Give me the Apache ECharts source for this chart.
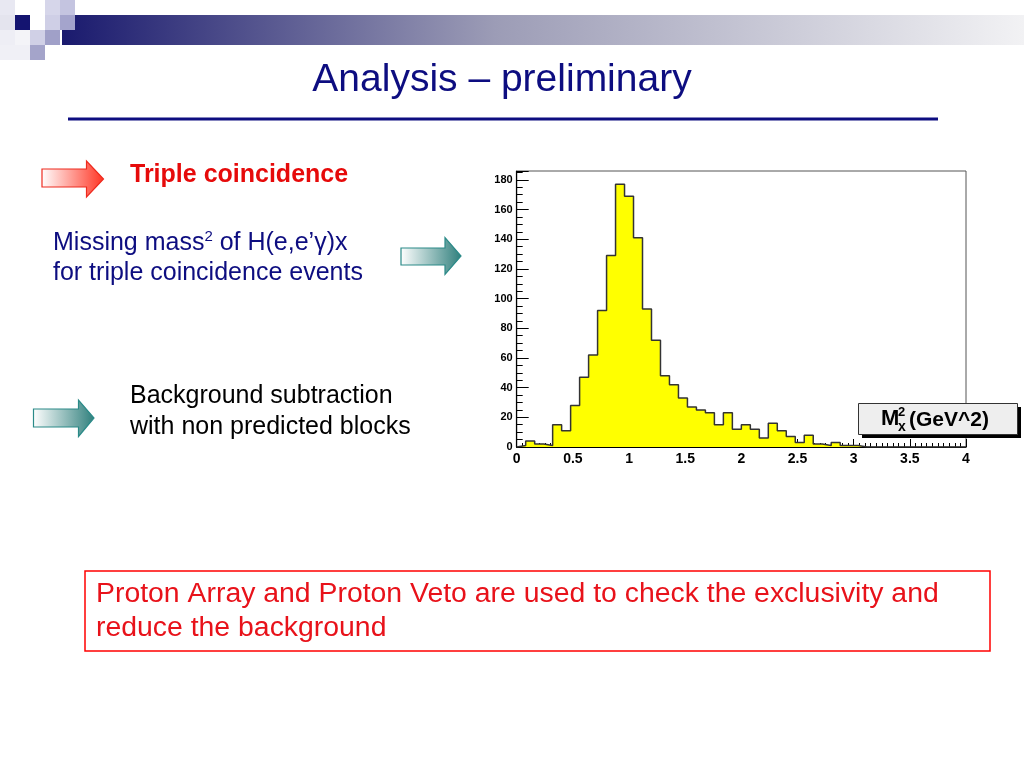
<!DOCTYPE html>
<html><head><meta charset="utf-8">
<script src="https://cdn.jsdelivr.net/npm/echarts@6/dist/echarts.min.js"></script>
<style>html,body{margin:0;padding:0;background:#fff}#c{width:1024px;height:768px}</style>
</head><body><div id="c"></div>
<script>
// ---- data ----
const binStart = 0;
const binWidth = 0.08;
const counts = [1,4,2,1,15,11,28,47,62,92,129,177,169,141,93,72,48,42,33,27,25,23,15,23,12,15,12,6,16,11,7,3,8,2,1,3,1,1,0,0,0,0,0,0,0,0,0,0,0,0];
const xTickLabels = ['0','0.5','1','1.5','2','2.5','3','3.5','4'];
const yTickLabels = ['0','20','40','60','80','100','120','140','160','180'];
const titleText = 'Analysis \u2013 preliminary';
const axisTitle = ['M', '2', 'x', '(GeV^2)'];

// build the histogram outline from bin edges
const outline = [[binStart, 0]];
counts.forEach((c, i) => outline.push([binStart + i * binWidth, c]));
outline.push([binStart + counts.length * binWidth, 0]);

const chart = echarts.init(document.getElementById('c'), null, {renderer: 'canvas'});
const F = '"Liberation Sans", Arial, Helvetica, sans-serif';
const navy = '#0d0d80';

function arrow(x0, xh, x1, yt, yb, ht, hb, yc, c1, stroke) {
  return {type: 'polygon', z: 50,
    shape: {points: [[x0, yt], [xh, yt], [xh, ht], [x1, yc], [xh, hb], [xh, yb], [x0, yb]]},
    style: {fill: {type: 'linear', x: 0, y: 0, x2: 1, y2: 0, colorStops: [{offset: 0, color: '#ffffff'}, {offset: 1, color: c1}]},
      stroke: stroke, lineWidth: 1.2}};
}
function txt(text, x, y, size, color, weight, align) {
  return {type: 'text', z: 60, style: {text: text, x: x, y: y, fill: color,
    font: (weight || 'normal') + ' ' + size + 'px ' + F, textAlign: align || 'left', textVerticalAlign: 'middle'}};
}
function sq(x, y, c) { return {type: 'rect', z: 40, shape: {x: x, y: y, width: 15, height: 15}, style: {fill: c}}; }

const graphics = [
  // header gradient bar and squares
  {type: 'rect', z: 30, shape: {x: 62, y: 15, width: 962, height: 30},
    style: {fill: {type: 'linear', x: 0, y: 0, x2: 1, y2: 0, colorStops: [
      {offset: 0, color: '#1a1a6e'}, {offset: 0.45, color: '#9c9cb6'}, {offset: 1, color: '#f2f2f4'}]}}},
  sq(0, 0, '#e8e8f2'), sq(45, 0, '#d6d6ea'), sq(60, 0, '#c4c4e0'),
  sq(0, 15, '#e4e4ee'), sq(15, 15, '#141470'), sq(30, 15, '#ffffff'), sq(45, 15, '#cfcfe6'), sq(60, 15, '#a4a4cc'),
  sq(0, 30, '#eeeef5'), sq(15, 30, '#f4f4f8'), sq(30, 30, '#d0d0e6'), sq(45, 30, '#a0a0c8'),
  sq(0, 45, '#f0f0f6'), sq(15, 45, '#f0f0f6'), sq(30, 45, '#a4a4ca'),
  // title and rule
  txt(titleText, 502, 80, 39, navy, 'normal', 'center'),
  {type: 'rect', z: 30, shape: {x: 68, y: 117.5, width: 870, height: 3}, style: {fill: navy}},
  // arrows
  arrow(42, 86.5, 103.5, 169, 187, 161, 197, 179, '#ff3322', '#ee2a1e'),
  arrow(401, 445, 461, 248, 265, 237.5, 274.5, 256, '#2f7f7c', '#2a8a88'),
  arrow(33.5, 78.5, 94, 409, 427, 400, 436.5, 418, '#2f7f7c', '#2a8a88'),
  // left texts
  txt('Triple coincidence', 130, 175, 25, '#e60a0a', 'bold'),
  txt('Missing mass', 53, 243, 25, navy),
  txt('2', 204.4, 236.5, 15, navy),
  txt(' of H(e,e\u2019\u03b3)x', 212.7, 243, 25, navy),
  txt('for triple coincidence events', 53, 273.5, 25, navy),
  txt('Background subtraction', 130, 396.5, 25, '#000000'),
  txt('with non predicted blocks', 130, 427, 25, '#000000'),
  // bottom red box
  {type: 'rect', z: 30, shape: {x: 85, y: 571, width: 905, height: 80}, style: {fill: 'none', stroke: '#ff0000', lineWidth: 1.5}},
  txt('Proton Array and Proton Veto are used to check the exclusivity and', 96, 594.5, 28.4, '#e8121a'),
  txt('reduce the background', 96, 628, 28.4, '#e8121a'),
  // axis title pave
  {type: 'rect', z: 100, shape: {x: 862, y: 407, width: 159, height: 31}, style: {fill: '#000000'}},
  {type: 'rect', z: 101, shape: {x: 858.5, y: 403.5, width: 159, height: 31}, style: {fill: '#eeeeee', stroke: '#333333', lineWidth: 1}},
  Object.assign(txt(axisTitle[0], 881, 419, 22, '#000', 'bold'), {z: 102}),
  Object.assign(txt(axisTitle[1], 898, 412, 13, '#000', 'bold'), {z: 102}),
  Object.assign(txt(axisTitle[2], 898, 427, 14, '#000', 'bold'), {z: 102}),
  Object.assign(txt(axisTitle[3], 909, 420, 21, '#000', 'bold'), {z: 102})
];

chart.setOption({
  animation: false,
  backgroundColor: '#ffffff',
  grid: {left: 516.7, right: 58, top: 171, bottom: 321, show: true, borderColor: '#555555', borderWidth: 1, backgroundColor: '#ffffff'},
  xAxis: {type: 'value', min: 0, max: 4, interval: 0.5,
    axisLine: {show: true, onZero: false, lineStyle: {color: '#000', width: 1.2}},
    axisTick: {show: true, inside: true, length: 8, lineStyle: {color: '#000', width: 1}},
    minorTick: {show: true, splitNumber: 10, length: 4, lineStyle: {color: '#000', width: 1}},
    splitLine: {show: false},
    axisLabel: {margin: 5, color: '#000', fontFamily: F, fontWeight: 'bold', fontSize: 14,
      formatter: (v) => { const i = Math.round(v / 0.5); return Math.abs(v - i * 0.5) < 1e-9 ? xTickLabels[i] : ''; }}},
  yAxis: {type: 'value', min: 0, max: 186, interval: 20,
    axisLine: {show: true, onZero: false, lineStyle: {color: '#000', width: 1.2}},
    axisTick: {show: true, inside: true, length: 12, lineStyle: {color: '#000', width: 1}},
    minorTick: {show: true, splitNumber: 4, length: 6, lineStyle: {color: '#000', width: 1}},
    splitLine: {show: false},
    axisLabel: {margin: 4, color: '#000', fontFamily: F, fontWeight: 'bold', fontSize: 11, showMaxLabel: false,
      formatter: (v) => { const i = Math.round(v / 20); return Math.abs(v - i * 20) < 1e-9 && i < yTickLabels.length ? yTickLabels[i] : ''; }}},
  series: [{type: 'line', data: outline, step: 'end', symbol: 'none', z: 5,
    lineStyle: {color: '#333333', width: 1.5},
    areaStyle: {color: '#ffff00', opacity: 1, origin: 'start'}}],
  graphic: graphics
});
</script></body></html>
